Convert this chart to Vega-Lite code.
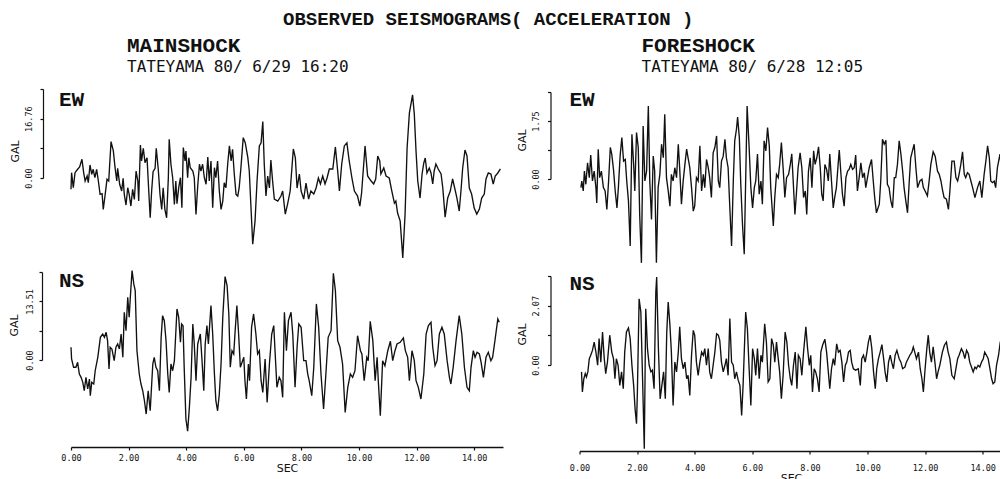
{
  "$schema": "https://vega.github.io/schema/vega-lite/v6.json",
  "background": "white",
  "padding": {"left": 8, "top": 10, "right": 0, "bottom": 0},
  "title": {
    "text": "OBSERVED SEISMOGRAMS( ACCELERATION )",
    "anchor": "start",
    "dx": 275,
    "font": "Liberation Mono",
    "fontSize": 19,
    "fontWeight": "bold",
    "color": "#111",
    "offset": 6
  },
  "datasets": {
    "mainEW": [
      {"t":0.00,"a":-3.20},{"t":0.02,"a":1.50},{"t":0.08,"a":-2.74},{"t":0.14,"a":1.50},{"t":0.23,"a":2.46},{"t":0.30,"a":3.11},{"t":0.38,"a":5.29},{"t":0.44,"a":1.50},{"t":0.49,"a":-0.85},{"t":0.56,"a":0.57},{"t":0.60,"a":-1.33},{"t":0.66,"a":3.68},{"t":0.72,"a":1.05},{"t":0.77,"a":2.46},{"t":0.83,"a":0.08},{"t":0.89,"a":2.46},{"t":0.95,"a":-0.85},{"t":1.01,"a":-4.61},{"t":1.08,"a":-4.44},{"t":1.12,"a":-8.86},{"t":1.18,"a":-5.09},{"t":1.25,"a":-0.37},{"t":1.31,"a":-0.85},{"t":1.39,"a":10.27},{"t":1.47,"a":7.64},{"t":1.53,"a":2.91},{"t":1.59,"a":-0.85},{"t":1.62,"a":2.74},{"t":1.69,"a":-1.78},{"t":1.76,"a":-3.68},{"t":1.81,"a":-0.08},{"t":1.85,"a":-4.61},{"t":1.91,"a":-7.64},{"t":1.97,"a":-2.74},{"t":2.02,"a":-4.61},{"t":2.08,"a":-7.92},{"t":2.14,"a":-3.20},{"t":2.20,"a":-6.03},{"t":2.26,"a":1.98},{"t":2.32,"a":-0.85},{"t":2.35,"a":-6.51},{"t":2.41,"a":9.34},{"t":2.45,"a":4.81},{"t":2.51,"a":8.40},{"t":2.57,"a":4.33},{"t":2.64,"a":5.74},{"t":2.70,"a":-3.68},{"t":2.75,"a":-11.24},{"t":2.80,"a":-3.68},{"t":2.85,"a":1.78},{"t":2.92,"a":2.74},{"t":2.96,"a":8.40},{"t":3.03,"a":2.46},{"t":3.09,"a":-4.61},{"t":3.15,"a":-8.86},{"t":3.20,"a":-2.74},{"t":3.26,"a":-8.86},{"t":3.32,"a":-11.24},{"t":3.38,"a":0.08},{"t":3.41,"a":10.95},{"t":3.47,"a":3.88},{"t":3.53,"a":0.08},{"t":3.59,"a":-7.44},{"t":3.64,"a":-0.85},{"t":3.68,"a":-7.27},{"t":3.74,"a":-2.74},{"t":3.80,"a":0.08},{"t":3.85,"a":-8.40},{"t":3.90,"a":8.58},{"t":3.96,"a":4.81},{"t":3.99,"a":7.64},{"t":4.05,"a":0.08},{"t":4.09,"a":5.74},{"t":4.14,"a":2.91},{"t":4.23,"a":1.98},{"t":4.28,"a":0.08},{"t":4.34,"a":-10.27},{"t":4.40,"a":-2.26},{"t":4.46,"a":3.88},{"t":4.51,"a":1.98},{"t":4.57,"a":3.88},{"t":4.63,"a":0.08},{"t":4.69,"a":-1.78},{"t":4.75,"a":5.94},{"t":4.80,"a":-0.85},{"t":4.86,"a":4.81},{"t":4.92,"a":-8.40},{"t":4.98,"a":2.91},{"t":5.03,"a":0.08},{"t":5.09,"a":4.81},{"t":5.15,"a":-3.68},{"t":5.21,"a":-8.86},{"t":5.27,"a":-6.51},{"t":5.32,"a":-1.33},{"t":5.38,"a":-2.74},{"t":5.44,"a":3.88},{"t":5.50,"a":9.06},{"t":5.56,"a":4.81},{"t":5.61,"a":8.12},{"t":5.67,"a":1.05},{"t":5.73,"a":-4.61},{"t":5.79,"a":-5.09},{"t":5.84,"a":-2.74},{"t":5.90,"a":2.91},{"t":5.98,"a":11.40},{"t":6.05,"a":9.99},{"t":6.14,"a":5.74},{"t":6.19,"a":1.98},{"t":6.25,"a":-8.40},{"t":6.31,"a":-18.68},{"t":6.39,"a":-12.17},{"t":6.46,"a":-0.85},{"t":6.54,"a":9.06},{"t":6.60,"a":9.91},{"t":6.66,"a":15.93},{"t":6.71,"a":3.96},{"t":6.77,"a":-5.09},{"t":6.83,"a":0.57},{"t":6.89,"a":-2.83},{"t":6.94,"a":5.09},{"t":7.00,"a":-0.85},{"t":7.06,"a":-5.94},{"t":7.18,"a":-6.51},{"t":7.29,"a":-5.09},{"t":7.35,"a":-3.68},{"t":7.44,"a":-10.19},{"t":7.52,"a":-7.36},{"t":7.61,"a":-3.68},{"t":7.72,"a":8.21},{"t":7.79,"a":5.66},{"t":7.85,"a":-2.83},{"t":7.93,"a":1.13},{"t":7.99,"a":-3.68},{"t":8.08,"a":-5.94},{"t":8.16,"a":-1.42},{"t":8.25,"a":-5.94},{"t":8.33,"a":-3.68},{"t":8.43,"a":-4.53},{"t":8.51,"a":-2.83},{"t":8.59,"a":0.00},{"t":8.66,"a":-1.70},{"t":8.74,"a":0.57},{"t":8.82,"a":-1.70},{"t":8.89,"a":0.00},{"t":8.97,"a":2.55},{"t":9.09,"a":2.55},{"t":9.18,"a":8.77},{"t":9.26,"a":1.98},{"t":9.32,"a":-3.68},{"t":9.40,"a":3.96},{"t":9.49,"a":9.06},{"t":9.58,"a":9.91},{"t":9.66,"a":4.81},{"t":9.76,"a":-0.28},{"t":9.84,"a":-3.68},{"t":9.95,"a":-5.09},{"t":10.03,"a":-7.92},{"t":10.09,"a":-4.25},{"t":10.21,"a":9.06},{"t":10.30,"a":0.57},{"t":10.42,"a":-0.85},{"t":10.51,"a":-1.70},{"t":10.58,"a":-0.28},{"t":10.65,"a":6.23},{"t":10.72,"a":4.81},{"t":10.76,"a":1.13},{"t":10.86,"a":2.83},{"t":10.94,"a":0.57},{"t":11.05,"a":0.00},{"t":11.14,"a":-3.68},{"t":11.23,"a":-7.08},{"t":11.28,"a":-6.51},{"t":11.34,"a":-9.91},{"t":11.43,"a":-12.17},{"t":11.52,"a":-22.56},{"t":11.60,"a":-10.19},{"t":11.67,"a":8.49},{"t":11.75,"a":18.40},{"t":11.86,"a":23.49},{"t":11.92,"a":18.11},{"t":11.98,"a":7.64},{"t":12.04,"a":-0.85},{"t":12.12,"a":-5.66},{"t":12.19,"a":1.13},{"t":12.25,"a":4.25},{"t":12.30,"a":5.66},{"t":12.36,"a":1.42},{"t":12.44,"a":2.83},{"t":12.50,"a":1.42},{"t":12.56,"a":-1.70},{"t":12.61,"a":1.98},{"t":12.67,"a":3.96},{"t":12.75,"a":2.55},{"t":12.85,"a":1.13},{"t":12.91,"a":-2.83},{"t":12.99,"a":-11.04},{"t":13.08,"a":-5.66},{"t":13.17,"a":-3.68},{"t":13.25,"a":-0.28},{"t":13.33,"a":-3.11},{"t":13.40,"a":-5.66},{"t":13.48,"a":-9.34},{"t":13.54,"a":-3.68},{"t":13.60,"a":2.83},{"t":13.68,"a":7.92},{"t":13.75,"a":6.23},{"t":13.83,"a":-2.83},{"t":13.91,"a":-4.53},{"t":14.00,"a":-8.49},{"t":14.09,"a":-10.19},{"t":14.18,"a":-8.77},{"t":14.26,"a":-5.66},{"t":14.35,"a":-4.53},{"t":14.41,"a":-0.28},{"t":14.49,"a":1.42},{"t":14.58,"a":1.13},{"t":14.66,"a":-1.70},{"t":14.73,"a":0.57},{"t":14.82,"a":1.42},{"t":14.91,"a":2.55}
    ],
    "mainNS": [
      {"t":0.00,"a":2.93},{"t":0.02,"a":0.23},{"t":0.09,"a":-1.68},{"t":0.17,"a":-1.68},{"t":0.23,"a":-0.53},{"t":0.29,"a":-3.23},{"t":0.35,"a":-3.99},{"t":0.41,"a":-5.14},{"t":0.46,"a":-7.08},{"t":0.52,"a":-3.99},{"t":0.58,"a":-6.68},{"t":0.64,"a":-4.38},{"t":0.67,"a":-8.23},{"t":0.72,"a":-5.14},{"t":0.79,"a":-5.53},{"t":0.84,"a":-2.47},{"t":0.93,"a":0.62},{"t":1.02,"a":5.23},{"t":1.10,"a":5.99},{"t":1.16,"a":5.23},{"t":1.22,"a":6.38},{"t":1.27,"a":4.45},{"t":1.32,"a":-2.07},{"t":1.36,"a":2.93},{"t":1.42,"a":2.54},{"t":1.50,"a":-0.16},{"t":1.56,"a":2.93},{"t":1.62,"a":3.69},{"t":1.68,"a":2.54},{"t":1.74,"a":5.99},{"t":1.80,"a":0.62},{"t":1.85,"a":11.00},{"t":1.91,"a":6.75},{"t":1.97,"a":14.45},{"t":2.02,"a":9.84},{"t":2.06,"a":14.45},{"t":2.12,"a":20.58},{"t":2.18,"a":17.52},{"t":2.23,"a":15.97},{"t":2.29,"a":2.14},{"t":2.37,"a":-3.23},{"t":2.43,"a":-5.53},{"t":2.49,"a":-7.08},{"t":2.55,"a":-9.38},{"t":2.61,"a":-12.45},{"t":2.68,"a":-7.08},{"t":2.75,"a":-11.69},{"t":2.84,"a":-0.92},{"t":2.89,"a":0.62},{"t":2.95,"a":-1.68},{"t":3.01,"a":-2.47},{"t":3.07,"a":-7.08},{"t":3.13,"a":5.23},{"t":3.18,"a":10.21},{"t":3.24,"a":9.06},{"t":3.30,"a":4.45},{"t":3.36,"a":-3.23},{"t":3.41,"a":-7.45},{"t":3.47,"a":-0.92},{"t":3.53,"a":-2.47},{"t":3.59,"a":-0.16},{"t":3.68,"a":11.76},{"t":3.74,"a":9.84},{"t":3.80,"a":4.08},{"t":3.84,"a":8.30},{"t":3.89,"a":7.91},{"t":3.93,"a":-1.68},{"t":3.99,"a":-13.60},{"t":4.05,"a":-16.37},{"t":4.11,"a":-10.90},{"t":4.17,"a":-3.99},{"t":4.23,"a":8.30},{"t":4.28,"a":3.69},{"t":4.34,"a":-4.77},{"t":4.40,"a":3.69},{"t":4.49,"a":5.99},{"t":4.55,"a":-0.16},{"t":4.61,"a":-7.08},{"t":4.66,"a":3.69},{"t":4.72,"a":7.91},{"t":4.77,"a":3.69},{"t":4.86,"a":12.52},{"t":4.92,"a":5.99},{"t":4.98,"a":-3.23},{"t":5.03,"a":-9.38},{"t":5.09,"a":-11.69},{"t":5.15,"a":-7.84},{"t":5.21,"a":-0.92},{"t":5.27,"a":9.84},{"t":5.35,"a":19.20},{"t":5.42,"a":17.13},{"t":5.48,"a":10.60},{"t":5.53,"a":-1.68},{"t":5.59,"a":2.14},{"t":5.65,"a":1.38},{"t":5.70,"a":6.75},{"t":5.76,"a":12.52},{"t":5.82,"a":5.99},{"t":5.88,"a":-1.68},{"t":6.00,"a":0.62},{"t":6.04,"a":-4.77},{"t":6.09,"a":-8.99},{"t":6.16,"a":-0.92},{"t":6.20,"a":-4.77},{"t":6.27,"a":7.54},{"t":6.34,"a":10.60},{"t":6.42,"a":5.99},{"t":6.48,"a":1.38},{"t":6.54,"a":2.14},{"t":6.60,"a":-4.77},{"t":6.66,"a":-7.45},{"t":6.74,"a":0.23},{"t":6.81,"a":-9.75},{"t":6.89,"a":-0.92},{"t":6.97,"a":5.99},{"t":7.04,"a":7.91},{"t":7.09,"a":1.38},{"t":7.15,"a":-6.29},{"t":7.23,"a":-3.99},{"t":7.29,"a":-4.77},{"t":7.35,"a":-8.60},{"t":7.41,"a":11.00},{"t":7.48,"a":2.14},{"t":7.55,"a":9.06},{"t":7.64,"a":11.00},{"t":7.70,"a":5.99},{"t":7.78,"a":-6.29},{"t":7.85,"a":2.93},{"t":7.91,"a":8.30},{"t":7.99,"a":7.54},{"t":8.08,"a":-0.16},{"t":8.16,"a":-0.16},{"t":8.22,"a":-3.23},{"t":8.27,"a":-4.77},{"t":8.36,"a":-8.23},{"t":8.43,"a":-1.68},{"t":8.52,"a":12.91},{"t":8.60,"a":7.54},{"t":8.68,"a":-3.23},{"t":8.77,"a":-11.29},{"t":8.85,"a":-3.23},{"t":8.93,"a":5.23},{"t":9.03,"a":6.75},{"t":9.11,"a":19.98},{"t":9.18,"a":15.97},{"t":9.26,"a":4.45},{"t":9.34,"a":2.93},{"t":9.43,"a":-0.92},{"t":9.52,"a":-12.06},{"t":9.61,"a":-6.29},{"t":9.70,"a":-3.23},{"t":9.78,"a":-3.99},{"t":9.86,"a":-2.47},{"t":9.95,"a":5.60},{"t":10.05,"a":2.14},{"t":10.10,"a":1.38},{"t":10.18,"a":-4.77},{"t":10.27,"a":0.62},{"t":10.32,"a":-0.16},{"t":10.39,"a":8.92},{"t":10.48,"a":4.45},{"t":10.56,"a":-4.77},{"t":10.63,"a":0.62},{"t":10.67,"a":-4.77},{"t":10.74,"a":-12.84},{"t":10.82,"a":-0.16},{"t":10.90,"a":-1.31},{"t":11.00,"a":2.14},{"t":11.09,"a":4.31},{"t":11.17,"a":-0.16},{"t":11.25,"a":2.14},{"t":11.32,"a":3.69},{"t":11.43,"a":4.08},{"t":11.54,"a":5.07},{"t":11.61,"a":2.14},{"t":11.69,"a":0.62},{"t":11.75,"a":-4.77},{"t":11.84,"a":2.14},{"t":11.92,"a":-0.16},{"t":11.98,"a":-4.77},{"t":12.06,"a":-6.29},{"t":12.15,"a":-8.99},{"t":12.25,"a":-3.23},{"t":12.33,"a":5.99},{"t":12.41,"a":7.91},{"t":12.50,"a":8.69},{"t":12.56,"a":2.93},{"t":12.64,"a":-1.31},{"t":12.71,"a":-0.16},{"t":12.79,"a":5.99},{"t":12.88,"a":7.54},{"t":12.96,"a":5.99},{"t":13.06,"a":-0.16},{"t":13.14,"a":-3.99},{"t":13.19,"a":-5.53},{"t":13.27,"a":-1.68},{"t":13.37,"a":4.45},{"t":13.48,"a":10.21},{"t":13.57,"a":5.99},{"t":13.66,"a":-1.68},{"t":13.75,"a":-6.29},{"t":13.83,"a":-7.08},{"t":13.89,"a":-1.68},{"t":13.97,"a":2.14},{"t":14.03,"a":0.62},{"t":14.10,"a":1.77},{"t":14.18,"a":1.38},{"t":14.24,"a":-0.53},{"t":14.32,"a":-3.99},{"t":14.41,"a":0.62},{"t":14.49,"a":1.77},{"t":14.58,"a":-0.16},{"t":14.64,"a":0.62},{"t":14.72,"a":4.45},{"t":14.82,"a":9.45},{"t":14.87,"a":8.69}
    ],
    "foreEW": [
      {"t":0.05,"a":-0.26},{"t":0.08,"a":-0.06},{"t":0.13,"a":-0.36},{"t":0.17,"a":0.24},{"t":0.22,"a":-0.16},{"t":0.28,"a":0.49},{"t":0.34,"a":0.04},{"t":0.39,"a":0.72},{"t":0.45,"a":-0.06},{"t":0.51,"a":0.24},{"t":0.57,"a":-0.26},{"t":0.60,"a":-0.72},{"t":0.65,"a":0.90},{"t":0.70,"a":0.04},{"t":0.76,"a":0.24},{"t":0.83,"a":-0.26},{"t":0.89,"a":-0.36},{"t":0.95,"a":-0.92},{"t":1.01,"a":-0.06},{"t":1.07,"a":0.95},{"t":1.12,"a":0.75},{"t":1.18,"a":0.29},{"t":1.24,"a":-0.36},{"t":1.30,"a":-0.87},{"t":1.35,"a":-0.26},{"t":1.41,"a":0.69},{"t":1.47,"a":1.25},{"t":1.53,"a":0.54},{"t":1.59,"a":0.59},{"t":1.64,"a":-0.06},{"t":1.70,"a":-0.66},{"t":1.76,"a":-2.02},{"t":1.82,"a":1.35},{"t":1.88,"a":0.44},{"t":1.92,"a":-0.36},{"t":1.98,"a":1.40},{"t":2.04,"a":0.95},{"t":2.09,"a":-1.07},{"t":2.15,"a":-2.53},{"t":2.21,"a":1.60},{"t":2.27,"a":-0.06},{"t":2.33,"a":0.24},{"t":2.39,"a":2.20},{"t":2.44,"a":-0.06},{"t":2.50,"a":-1.22},{"t":2.56,"a":0.69},{"t":2.61,"a":0.24},{"t":2.67,"a":-2.53},{"t":2.73,"a":-0.26},{"t":2.79,"a":0.14},{"t":2.85,"a":1.05},{"t":2.91,"a":0.64},{"t":2.96,"a":1.95},{"t":3.02,"a":0.04},{"t":3.08,"a":-0.36},{"t":3.14,"a":-0.82},{"t":3.19,"a":0.14},{"t":3.25,"a":-0.06},{"t":3.31,"a":0.34},{"t":3.37,"a":0.04},{"t":3.43,"a":1.05},{"t":3.48,"a":0.29},{"t":3.54,"a":-0.76},{"t":3.60,"a":-0.06},{"t":3.66,"a":0.44},{"t":3.72,"a":0.90},{"t":3.77,"a":0.64},{"t":3.83,"a":0.34},{"t":3.89,"a":-0.26},{"t":3.95,"a":-0.97},{"t":4.00,"a":-0.82},{"t":4.06,"a":0.04},{"t":4.12,"a":-0.06},{"t":4.18,"a":1.00},{"t":4.24,"a":-0.36},{"t":4.30,"a":0.14},{"t":4.35,"a":-0.26},{"t":4.41,"a":0.59},{"t":4.47,"a":0.34},{"t":4.52,"a":0.04},{"t":4.58,"a":-0.56},{"t":4.64,"a":0.79},{"t":4.70,"a":0.95},{"t":4.76,"a":1.30},{"t":4.82,"a":-0.06},{"t":4.87,"a":-0.26},{"t":4.93,"a":0.54},{"t":4.99,"a":0.69},{"t":5.05,"a":1.20},{"t":5.10,"a":0.64},{"t":5.16,"a":0.34},{"t":5.22,"a":-0.87},{"t":5.28,"a":-2.02},{"t":5.34,"a":-0.06},{"t":5.39,"a":1.15},{"t":5.45,"a":1.50},{"t":5.49,"a":1.87},{"t":5.55,"a":1.25},{"t":5.60,"a":-0.16},{"t":5.66,"a":-1.37},{"t":5.72,"a":-2.27},{"t":5.82,"a":2.20},{"t":5.89,"a":0.95},{"t":5.95,"a":-0.26},{"t":6.01,"a":-0.87},{"t":6.07,"a":-0.26},{"t":6.12,"a":-0.06},{"t":6.18,"a":0.75},{"t":6.24,"a":-0.46},{"t":6.30,"a":-0.06},{"t":6.35,"a":-0.76},{"t":6.41,"a":1.15},{"t":6.47,"a":0.85},{"t":6.53,"a":1.55},{"t":6.59,"a":1.00},{"t":6.64,"a":-0.26},{"t":6.73,"a":-1.42},{"t":6.78,"a":-0.56},{"t":6.84,"a":0.14},{"t":6.90,"a":0.04},{"t":6.95,"a":0.44},{"t":7.01,"a":1.10},{"t":7.07,"a":0.34},{"t":7.13,"a":-0.56},{"t":7.19,"a":0.04},{"t":7.26,"a":0.14},{"t":7.32,"a":0.44},{"t":7.37,"a":0.76},{"t":7.42,"a":-0.06},{"t":7.48,"a":-1.07},{"t":7.53,"a":-0.46},{"t":7.59,"a":0.34},{"t":7.66,"a":0.79},{"t":7.72,"a":0.34},{"t":7.78,"a":-0.56},{"t":7.84,"a":-0.36},{"t":7.89,"a":-1.07},{"t":7.95,"a":0.24},{"t":8.01,"a":0.64},{"t":8.07,"a":-0.26},{"t":8.13,"a":0.85},{"t":8.18,"a":0.44},{"t":8.24,"a":0.64},{"t":8.30,"a":0.97},{"t":8.36,"a":0.34},{"t":8.41,"a":-0.46},{"t":8.46,"a":-0.66},{"t":8.52,"a":0.44},{"t":8.58,"a":0.29},{"t":8.64,"a":-0.06},{"t":8.69,"a":0.75},{"t":8.75,"a":-0.06},{"t":8.81,"a":-0.87},{"t":8.86,"a":-0.56},{"t":8.92,"a":-0.26},{"t":8.98,"a":0.44},{"t":9.02,"a":0.87},{"t":9.07,"a":0.24},{"t":9.13,"a":-0.46},{"t":9.19,"a":-0.82},{"t":9.25,"a":0.04},{"t":9.31,"a":0.24},{"t":9.36,"a":0.29},{"t":9.42,"a":0.44},{"t":9.48,"a":0.29},{"t":9.54,"a":0.34},{"t":9.59,"a":0.72},{"t":9.65,"a":-0.36},{"t":9.71,"a":0.04},{"t":9.77,"a":0.49},{"t":9.83,"a":0.04},{"t":9.89,"a":0.19},{"t":9.94,"a":-0.26},{"t":10.00,"a":0.04},{"t":10.06,"a":0.34},{"t":10.14,"a":0.59},{"t":10.20,"a":-0.06},{"t":10.25,"a":-0.56},{"t":10.31,"a":-1.02},{"t":10.41,"a":-0.76},{"t":10.46,"a":-0.06},{"t":10.52,"a":1.20},{"t":10.58,"a":1.05},{"t":10.64,"a":1.17},{"t":10.69,"a":-0.16},{"t":10.75,"a":-0.26},{"t":10.81,"a":-0.66},{"t":10.87,"a":-0.87},{"t":10.93,"a":0.04},{"t":10.98,"a":0.04},{"t":11.04,"a":0.44},{"t":11.10,"a":1.15},{"t":11.16,"a":0.75},{"t":11.22,"a":0.24},{"t":11.27,"a":-0.26},{"t":11.33,"a":-0.66},{"t":11.39,"a":-1.02},{"t":11.45,"a":-0.06},{"t":11.50,"a":0.64},{"t":11.62,"a":1.05},{"t":11.68,"a":0.34},{"t":11.74,"a":-0.26},{"t":11.82,"a":-0.06},{"t":11.89,"a":-0.01},{"t":11.94,"a":-0.26},{"t":12.00,"a":-0.36},{"t":12.08,"a":-0.51},{"t":12.14,"a":-0.06},{"t":12.20,"a":0.44},{"t":12.28,"a":0.82},{"t":12.35,"a":0.69},{"t":12.43,"a":0.24},{"t":12.49,"a":0.14},{"t":12.55,"a":-0.06},{"t":12.60,"a":-0.31},{"t":12.66,"a":-0.56},{"t":12.74,"a":-0.61},{"t":12.81,"a":-0.92},{"t":12.86,"a":-0.36},{"t":12.93,"a":0.54},{"t":13.01,"a":0.54},{"t":13.07,"a":0.04},{"t":13.13,"a":-0.06},{"t":13.18,"a":0.14},{"t":13.24,"a":0.44},{"t":13.30,"a":0.82},{"t":13.36,"a":0.14},{"t":13.41,"a":0.04},{"t":13.47,"a":0.19},{"t":13.53,"a":0.14},{"t":13.59,"a":-0.06},{"t":13.65,"a":-0.26},{"t":13.73,"a":-0.56},{"t":13.82,"a":-0.26},{"t":13.90,"a":-0.06},{"t":13.97,"a":-0.56},{"t":14.05,"a":0.14},{"t":14.11,"a":0.54},{"t":14.17,"a":1.00},{"t":14.23,"a":0.64},{"t":14.28,"a":-0.06},{"t":14.34,"a":-0.11},{"t":14.40,"a":-0.06},{"t":14.45,"a":-0.26},{"t":14.51,"a":0.34},{"t":14.60,"a":0.75},{"t":14.66,"a":0.24}
    ],
    "foreNS": [
      {"t":0.07,"a":-0.24},{"t":0.10,"a":-0.94},{"t":0.15,"a":-0.48},{"t":0.20,"a":-0.30},{"t":0.24,"a":-0.42},{"t":0.29,"a":-0.24},{"t":0.34,"a":0.22},{"t":0.39,"a":0.34},{"t":0.45,"a":0.51},{"t":0.51,"a":0.80},{"t":0.57,"a":0.45},{"t":0.63,"a":-0.01},{"t":0.68,"a":0.92},{"t":0.74,"a":0.10},{"t":0.80,"a":1.15},{"t":0.86,"a":0.22},{"t":0.91,"a":-0.30},{"t":0.97,"a":0.10},{"t":1.05,"a":1.04},{"t":1.12,"a":0.45},{"t":1.18,"a":0.22},{"t":1.23,"a":-0.48},{"t":1.28,"a":0.22},{"t":1.34,"a":-0.01},{"t":1.40,"a":-0.71},{"t":1.46,"a":-0.24},{"t":1.52,"a":-0.83},{"t":1.57,"a":0.45},{"t":1.63,"a":1.15},{"t":1.70,"a":1.29},{"t":1.76,"a":0.92},{"t":1.82,"a":-0.01},{"t":1.88,"a":-0.71},{"t":1.93,"a":-1.53},{"t":1.98,"a":-2.05},{"t":2.01,"a":-0.94},{"t":2.07,"a":2.31},{"t":2.13,"a":1.85},{"t":2.19,"a":-0.48},{"t":2.25,"a":-2.92},{"t":2.30,"a":1.96},{"t":2.36,"a":0.57},{"t":2.42,"a":-0.01},{"t":2.48,"a":-0.24},{"t":2.53,"a":-0.18},{"t":2.59,"a":-0.83},{"t":2.65,"a":2.55},{"t":2.68,"a":3.07},{"t":2.74,"a":0.57},{"t":2.80,"a":-1.18},{"t":2.86,"a":-0.71},{"t":2.92,"a":-0.24},{"t":2.98,"a":-1.18},{"t":3.03,"a":1.15},{"t":3.08,"a":2.20},{"t":3.14,"a":1.39},{"t":3.19,"a":0.45},{"t":3.25,"a":-1.41},{"t":3.31,"a":0.10},{"t":3.37,"a":-0.24},{"t":3.43,"a":0.45},{"t":3.48,"a":1.33},{"t":3.54,"a":0.22},{"t":3.60,"a":-0.13},{"t":3.66,"a":0.10},{"t":3.72,"a":-0.48},{"t":3.77,"a":-0.36},{"t":3.83,"a":-1.06},{"t":3.89,"a":0.34},{"t":3.95,"a":1.21},{"t":4.00,"a":1.04},{"t":4.06,"a":0.10},{"t":4.12,"a":-0.36},{"t":4.18,"a":0.10},{"t":4.24,"a":0.45},{"t":4.30,"a":0.34},{"t":4.35,"a":0.57},{"t":4.41,"a":-0.01},{"t":4.47,"a":0.57},{"t":4.52,"a":-0.24},{"t":4.58,"a":-0.48},{"t":4.64,"a":-0.01},{"t":4.70,"a":0.45},{"t":4.76,"a":1.09},{"t":4.82,"a":1.04},{"t":4.87,"a":0.86},{"t":4.93,"a":0.10},{"t":4.99,"a":-0.24},{"t":5.05,"a":-0.01},{"t":5.10,"a":0.22},{"t":5.16,"a":-0.36},{"t":5.22,"a":1.62},{"t":5.28,"a":0.10},{"t":5.34,"a":-0.01},{"t":5.39,"a":-0.48},{"t":5.45,"a":-0.24},{"t":5.51,"a":-0.53},{"t":5.57,"a":-0.71},{"t":5.63,"a":-1.76},{"t":5.68,"a":-0.71},{"t":5.77,"a":1.85},{"t":5.83,"a":1.27},{"t":5.89,"a":-0.13},{"t":5.95,"a":-1.41},{"t":6.01,"a":0.57},{"t":6.07,"a":0.22},{"t":6.12,"a":-0.36},{"t":6.18,"a":0.57},{"t":6.24,"a":-0.48},{"t":6.30,"a":0.34},{"t":6.35,"a":0.10},{"t":6.43,"a":1.44},{"t":6.49,"a":0.80},{"t":6.55,"a":-0.59},{"t":6.61,"a":-0.48},{"t":6.67,"a":0.92},{"t":6.73,"a":0.69},{"t":6.78,"a":0.10},{"t":6.84,"a":0.80},{"t":6.90,"a":0.22},{"t":6.95,"a":-0.24},{"t":7.01,"a":-1.18},{"t":7.07,"a":-0.36},{"t":7.14,"a":1.15},{"t":7.20,"a":0.80},{"t":7.26,"a":-0.01},{"t":7.32,"a":-0.48},{"t":7.37,"a":-0.71},{"t":7.43,"a":-0.01},{"t":7.49,"a":0.45},{"t":7.55,"a":-0.83},{"t":7.60,"a":0.34},{"t":7.66,"a":0.22},{"t":7.72,"a":-0.36},{"t":7.78,"a":0.45},{"t":7.86,"a":1.33},{"t":7.92,"a":0.57},{"t":7.98,"a":-0.01},{"t":8.03,"a":0.34},{"t":8.09,"a":-0.94},{"t":8.15,"a":-0.13},{"t":8.20,"a":-0.24},{"t":8.26,"a":-0.48},{"t":8.32,"a":-0.94},{"t":8.38,"a":0.45},{"t":8.44,"a":0.69},{"t":8.52,"a":0.90},{"t":8.58,"a":0.45},{"t":8.64,"a":-0.24},{"t":8.69,"a":-0.83},{"t":8.75,"a":-0.13},{"t":8.81,"a":0.22},{"t":8.86,"a":-0.01},{"t":8.93,"a":0.74},{"t":8.99,"a":0.45},{"t":9.05,"a":0.51},{"t":9.11,"a":0.10},{"t":9.17,"a":-0.59},{"t":9.23,"a":-0.01},{"t":9.28,"a":0.10},{"t":9.34,"a":0.45},{"t":9.40,"a":0.51},{"t":9.45,"a":0.10},{"t":9.51,"a":-0.13},{"t":9.59,"a":-0.18},{"t":9.68,"a":-0.13},{"t":9.75,"a":-0.71},{"t":9.80,"a":0.22},{"t":9.86,"a":0.34},{"t":9.92,"a":0.10},{"t":9.98,"a":0.45},{"t":10.03,"a":0.80},{"t":10.09,"a":1.04},{"t":10.15,"a":0.57},{"t":10.21,"a":-0.24},{"t":10.27,"a":-0.83},{"t":10.32,"a":-0.13},{"t":10.38,"a":0.22},{"t":10.44,"a":0.45},{"t":10.50,"a":0.71},{"t":10.56,"a":0.22},{"t":10.61,"a":-0.24},{"t":10.67,"a":-0.59},{"t":10.73,"a":0.10},{"t":10.79,"a":0.34},{"t":10.84,"a":0.10},{"t":10.90,"a":-0.13},{"t":10.96,"a":0.34},{"t":11.02,"a":0.51},{"t":11.10,"a":0.22},{"t":11.16,"a":0.10},{"t":11.22,"a":-0.13},{"t":11.30,"a":-0.07},{"t":11.35,"a":0.10},{"t":11.41,"a":0.22},{"t":11.47,"a":0.34},{"t":11.54,"a":0.45},{"t":11.59,"a":0.63},{"t":11.64,"a":0.45},{"t":11.70,"a":0.22},{"t":11.77,"a":0.45},{"t":11.83,"a":-0.13},{"t":11.89,"a":-0.48},{"t":11.94,"a":-0.94},{"t":12.00,"a":-0.13},{"t":12.06,"a":0.57},{"t":12.11,"a":1.04},{"t":12.16,"a":0.45},{"t":12.22,"a":0.10},{"t":12.28,"a":0.63},{"t":12.34,"a":0.10},{"t":12.40,"a":-0.48},{"t":12.45,"a":-0.24},{"t":12.51,"a":-0.01},{"t":12.60,"a":0.45},{"t":12.67,"a":0.69},{"t":12.74,"a":0.80},{"t":12.80,"a":0.45},{"t":12.86,"a":0.22},{"t":12.93,"a":-0.36},{"t":13.01,"a":-0.48},{"t":13.07,"a":-0.13},{"t":13.13,"a":0.22},{"t":13.18,"a":0.34},{"t":13.26,"a":0.57},{"t":13.32,"a":0.45},{"t":13.38,"a":0.22},{"t":13.44,"a":0.51},{"t":13.50,"a":0.39},{"t":13.55,"a":0.10},{"t":13.61,"a":-0.07},{"t":13.67,"a":-0.24},{"t":13.73,"a":-0.07},{"t":13.78,"a":-0.13},{"t":13.84,"a":-0.01},{"t":13.90,"a":-0.07},{"t":13.96,"a":0.10},{"t":14.02,"a":0.22},{"t":14.07,"a":0.45},{"t":14.13,"a":0.34},{"t":14.19,"a":0.22},{"t":14.25,"a":-0.13},{"t":14.31,"a":-0.48},{"t":14.36,"a":-0.65},{"t":14.42,"a":-0.59},{"t":14.48,"a":-0.01},{"t":14.55,"a":0.34},{"t":14.61,"a":0.80},{"t":14.66,"a":0.92}
    ]
  },
  "spacing": 12.5,
  "hconcat": [
    {
      "title": {
        "text": "MAINSHOCK",
        "subtitle": "TATEYAMA 80/ 6/29 16:20",
        "anchor": "start",
        "dx": 119,
        "font": "Liberation Mono",
        "fontSize": 21,
        "fontWeight": "bold",
        "color": "#111",
        "subtitleFont": "DejaVu Sans Mono",
        "subtitleFontSize": 16,
        "subtitleColor": "#111",
        "subtitlePadding": 3,
        "offset": 12
      },
      "spacing": 2,
      "vconcat": [
        {
          "width": 432,
          "height": 178,
          "layer": [
            {
              "data": {"name": "mainEW"},
              "mark": {"type": "line", "color": "#111", "strokeWidth": 1.35},
              "encoding": {
                "x": {"field": "t", "type": "quantitative", "scale": {"domain": [0, 15], "nice": false, "zero": false}, "axis": null},
                "y": {
                  "field": "a", "type": "quantitative",
                  "scale": {"domain": [0, 25.14], "range": [91, 2], "nice": false, "zero": false},
                  "axis": {
                    "values": [0, 8.38, 16.76, 25.14],
                    "labelExpr": "datum.value === 0 ? '0.00' : (datum.value === 16.76 ? '16.76' : '')",
                    "labelAngle": 270, "labelAlign": "center", "labelBaseline": "middle",
                    "tickSize": 3, "labelPadding": 12, "offset": 28,
                    "title": "GAL", "titleAngle": 270, "titleAlign": "center", "titleBaseline": "middle",
                    "titleX": -28, "titleY": 64
                  }
                }
              }
            },
            {
              "data": {"values": [{"comp": "EW"}]},
              "mark": {"type": "text", "font": "Liberation Mono", "fontWeight": "bold", "fontSize": 21, "align": "left", "baseline": "middle", "color": "#111"},
              "encoding": {"x": {"datum": -0.42}, "y": {"datum": 22.07}, "text": {"field": "comp"}}
            }
          ]
        },
        {
          "width": 432,
          "height": 183,
          "layer": [
            {
              "data": {"name": "mainNS"},
              "mark": {"type": "line", "color": "#111", "strokeWidth": 1.35},
              "encoding": {
                "x": {
                  "field": "t", "type": "quantitative", "scale": {"domain": [0, 15], "nice": false, "zero": false},
                  "axis": {
                    "values": [0,1,2,3,4,5,6,7,8,9,10,11,12,13,14,15],
                    "labelExpr": "datum.value % 2 === 0 && datum.value < 15 ? format(datum.value, '.2f') : ''",
                    "tickSize": 3, "labelPadding": 3, "offset": -6,
                    "domainWidth": 1.5,
                    "title": "SEC", "titlePadding": 1
                  }
                },
                "y": {
                  "field": "a", "type": "quantitative",
                  "scale": {"domain": [0, 20.265], "range": [90, 2], "nice": false, "zero": false},
                  "axis": {
                    "values": [0, 6.755, 13.51, 20.265],
                    "labelExpr": "datum.value === 0 ? '0.00' : (datum.value === 13.51 ? '13.51' : '')",
                    "labelAngle": 270, "labelAlign": "center", "labelBaseline": "middle",
                    "tickSize": 3, "labelPadding": 10, "offset": 29,
                    "title": "GAL", "titleAngle": 270, "titleAlign": "center", "titleBaseline": "middle",
                    "titleX": -28, "titleY": 55
                  }
                }
              }
            },
            {
              "data": {"values": [{"comp": "NS"}]},
              "mark": {"type": "text", "font": "Liberation Mono", "fontWeight": "bold", "fontSize": 21, "align": "left", "baseline": "middle", "color": "#111"},
              "encoding": {"x": {"datum": -0.42}, "y": {"datum": 18.2}, "text": {"field": "comp"}}
            }
          ]
        }
      ]
    },
    {
      "title": {
        "text": "FORESHOCK",
        "subtitle": "TATEYAMA 80/ 6/28 12:05",
        "anchor": "start",
        "dx": 125,
        "font": "Liberation Mono",
        "fontSize": 21,
        "fontWeight": "bold",
        "color": "#111",
        "subtitleFont": "DejaVu Sans Mono",
        "subtitleFontSize": 16,
        "subtitleColor": "#111",
        "subtitlePadding": 3,
        "offset": 12
      },
      "spacing": 2,
      "vconcat": [
        {
          "width": 423,
          "height": 178,
          "layer": [
            {
              "data": {"name": "foreEW"},
              "mark": {"type": "line", "color": "#111", "strokeWidth": 1.35},
              "encoding": {
                "x": {"field": "t", "type": "quantitative", "scale": {"domain": [0, 14.6875], "nice": false, "zero": false}, "axis": null},
                "y": {
                  "field": "a", "type": "quantitative",
                  "scale": {"domain": [0, 2.625], "range": [92, 5], "nice": false, "zero": false},
                  "axis": {
                    "values": [0, 0.875, 1.75, 2.625],
                    "labelExpr": "datum.value === 0 ? '0.00' : (datum.value === 1.75 ? '1.75' : '')",
                    "labelAngle": 270, "labelAlign": "center", "labelBaseline": "middle",
                    "tickSize": 3, "labelPadding": 12, "offset": 29,
                    "title": "GAL", "titleAngle": 270, "titleAlign": "center", "titleBaseline": "middle",
                    "titleX": -28, "titleY": 53
                  }
                }
              }
            },
            {
              "data": {"values": [{"comp": "EW"}]},
              "mark": {"type": "text", "font": "Liberation Mono", "fontWeight": "bold", "fontSize": 21, "align": "left", "baseline": "middle", "color": "#111"},
              "encoding": {"x": {"datum": -0.35}, "y": {"datum": 2.38}, "text": {"field": "comp"}}
            }
          ]
        },
        {
          "width": 423,
          "height": 183,
          "layer": [
            {
              "data": {"name": "foreNS"},
              "mark": {"type": "line", "color": "#111", "strokeWidth": 1.35},
              "encoding": {
                "x": {
                  "field": "t", "type": "quantitative", "scale": {"domain": [0, 14.6875], "nice": false, "zero": false},
                  "axis": {
                    "values": [0,1,2,3,4,5,6,7,8,9,10,11,12,13,14],
                    "labelExpr": "datum.value % 2 === 0 ? format(datum.value, '.2f') : ''",
                    "tickSize": 3, "labelPadding": 9, "offset": 0,
                    "domainWidth": 1.5,
                    "title": "SEC", "titlePadding": 1
                  }
                },
                "y": {
                  "field": "a", "type": "quantitative",
                  "scale": {"domain": [0, 3.105], "range": [97, 8], "nice": false, "zero": false},
                  "axis": {
                    "values": [0, 1.035, 2.07, 3.105],
                    "labelExpr": "datum.value === 0 ? '0.00' : (datum.value === 2.07 ? '2.07' : '')",
                    "labelAngle": 270, "labelAlign": "center", "labelBaseline": "middle",
                    "tickSize": 3, "labelPadding": 12, "offset": 29,
                    "title": "GAL", "titleAngle": 270, "titleAlign": "center", "titleBaseline": "middle",
                    "titleX": -28, "titleY": 66
                  }
                }
              }
            },
            {
              "data": {"values": [{"comp": "NS"}]},
              "mark": {"type": "text", "font": "Liberation Mono", "fontWeight": "bold", "fontSize": 21, "align": "left", "baseline": "middle", "color": "#111"},
              "encoding": {"x": {"datum": -0.35}, "y": {"datum": 2.83}, "text": {"field": "comp"}}
            }
          ]
        }
      ]
    }
  ],
  "config": {
    "view": {"stroke": null},
    "font": "DejaVu Sans Mono",
    "axis": {
      "grid": false,
      "domainColor": "#111",
      "tickColor": "#111",
      "labelColor": "#111",
      "titleColor": "#111",
      "labelFont": "DejaVu Sans Mono",
      "labelFontSize": 8.5,
      "titleFont": "DejaVu Sans",
      "titleFontWeight": "normal",
      "titleFontSize": 11,
      "domainWidth": 1.2,
      "tickWidth": 1.2,
      "labelFlush": false,
      "labelOverlap": false
    }
  }
}
